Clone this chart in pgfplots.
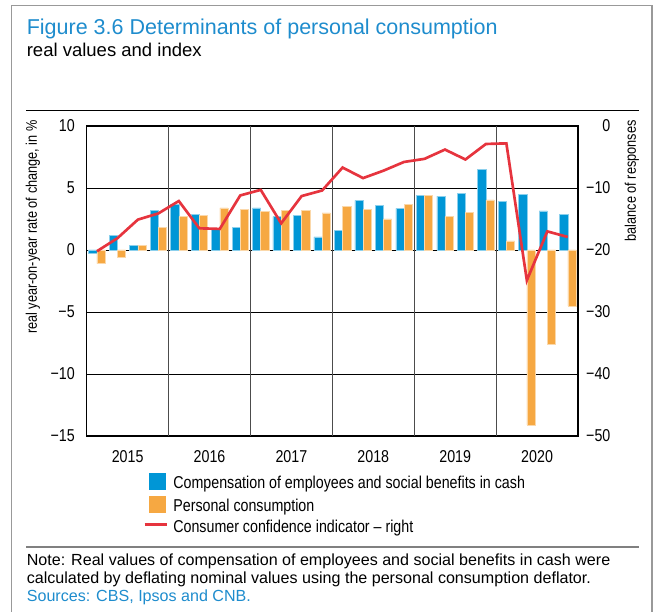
\documentclass[border=0pt]{standalone}
\usepackage{pgfplots}
\pgfplotsset{compat=1.18}
\usepackage{fontspec}
\setmainfont{Liberation Sans}
\newfontfamily\narrowfont[FakeStretch=0.83]{Liberation Sans}

\definecolor{cnbblue}{RGB}{0,150,214}
\definecolor{cnborange}{RGB}{246,168,66}
\definecolor{cnbred}{RGB}{230,52,62}
\definecolor{cnbtitle}{RGB}{30,140,205}

% quarterly data 2015Q1--2020Q4 (x = 1..24)
\pgfplotstableread{
q  comp   cons   conf
1  -0.3   -1.1   -20.2
2   1.2   -0.6   -18.1
3   0.4    0.4   -15.1
4   3.2    1.8   -14.1
5   3.65   2.7   -12.1
6   2.9    2.8   -16.5
7   1.7    3.4   -16.6
8   1.8    3.3   -11.2
9   3.4    3.1   -10.3
10  2.7    3.2   -15.7
11  2.8    3.2   -11.3
12  1.05   3.0   -10.4
13  1.6    3.5    -6.7
14  4.0    3.3    -8.4
15  3.6    2.5    -7.2
16  3.35   3.7    -5.8
17  4.4    4.4    -5.3
18  4.35   2.7    -3.8
19  4.55   3.05   -5.4
20  6.5    4.05   -2.9
21  3.9    0.73   -2.8
22  4.5  -14.1   -24.9
23  3.15  -7.6   -17.0
24  2.9   -4.5   -17.9
}\datatable

\begin{document}
\begin{tikzpicture}
% page furniture in reference pixels (1px = 0.6pt, y downwards)
\begin{scope}[x=0.6pt,y=-0.6pt]
\useasboundingbox (0,0) rectangle (654,612);
\draw[gray!80, line width=0.9pt] (11.5,612) -- (11.5,5.7) -- (652,5.7) -- (652,612);
\node[anchor=base west, inner sep=0, text=cnbtitle, font=\fontsize{12.9}{15}\selectfont] at (26.5,35) {Figure 3.6 Determinants of personal consumption};
\node[anchor=base west, inner sep=0, font=\fontsize{11.1}{13}\selectfont] at (26.5,57) {real values and index};
\draw[black, line width=0.6pt] (26,111) -- (639,111);
\node[rotate=90, anchor=east, inner sep=0, font=\narrowfont\fontsize{9.2}{10}\selectfont] at (33,120) {real year-on-year rate of change, in \%};
\node[rotate=90, anchor=east, inner sep=0, font=\narrowfont\fontsize{9.2}{10}\selectfont] at (632,120) {balance of responses};
\draw[gray, line width=1.2pt] (26,547) -- (639,547);
\node[anchor=base west, inner sep=0, font=\fontsize{9.65}{11}\selectfont] at (26.5,565) {Note: Real values of compensation of employees and social benefits in cash were};
\node[anchor=base west, inner sep=0, font=\fontsize{9.65}{11}\selectfont] at (26.5,583) {calculated by deflating nominal values using the personal consumption deflator.};
\node[anchor=base west, inner sep=0, text=cnbtitle, font=\fontsize{9.65}{11}\selectfont] at (26.5,601) {Sources: CBS, Ipsos and CNB.};
\end{scope}

\begin{axis}[
    at={(52.02pt,-261.6pt)}, anchor=south west,
    scale only axis, width=294.8pt, height=186pt,
    xmin=0.5, xmax=24.5, ymin=-15, ymax=10,
    xtick={2.5,6.5,10.5,14.5,18.5,22.5},
    xticklabels={2015,2016,2017,2018,2019,2020},
    ytick={-15,-10,-5,0,5,10},
    yticklabels={−15,−10,−5,0,5,10},
    extra x ticks={4.5,8.5,12.5,16.5,20.5},
    extra x tick labels={},
    extra x tick style={grid=major, major grid style={gray!60!black, line width=0.5pt}},
    ymajorgrids, major grid style={black, line width=0.5pt},
    major tick length=0pt,
    axis line style={black, line width=0.7pt},
    tick label style={font=\narrowfont\fontsize{10.3}{12}\selectfont, inner sep=0pt},
    yticklabel style={anchor=east, xshift=-7pt},
    xticklabel style={anchor=base, yshift=-16pt},
    legend style={at={(axis description cs:0.1146,-0.119)}, anchor=north west,
        draw=none, fill=none, inner sep=0pt, row sep=2.2pt,
        font=\narrowfont\fontsize{10.3}{12}\selectfont,
        nodes={inner sep=0pt, text height=7.6pt, text depth=2.8pt},
        /tikz/every odd column/.style={column sep=3.2pt}},
    legend cell align=left,
]
\addplot[ybar, bar width=0.4, bar shift=-0.2, fill=cnbblue, draw=cnbblue!45, line width=0.3pt,
    legend image code/.code={\fill[cnbblue] (0pt,-3.2pt) rectangle (9.6pt,6.4pt);}]
    table[x=q, y=comp] {\datatable};
\addlegendentry{Compensation of employees and social benefits in cash}
\addplot[ybar, bar width=0.4, bar shift=0.2, fill=cnborange, draw=cnborange!45, line width=0.3pt,
    legend image code/.code={\fill[cnborange] (0pt,-3.2pt) rectangle (9.6pt,6.4pt);}]
    table[x=q, y=cons] {\datatable};
\addlegendentry{Personal consumption}
\addlegendimage{legend image code/.code={\draw[cnbred, line width=1.6pt] (-3pt,2.4pt) -- (10.2pt,2.4pt);}}
\addlegendentry{Consumer confidence indicator – right}
\end{axis}

\begin{axis}[
    at={(52.02pt,-261.6pt)}, anchor=south west,
    scale only axis, width=294.8pt, height=186pt,
    xmin=0.5, xmax=24.5, ymin=-50, ymax=0,
    axis y line*=right, axis x line=none,
    ytick={-50,-40,-30,-20,-10,0},
    yticklabels={−50,−40,−30,−20,−10,0},
    major tick length=0pt,
    axis line style={black, line width=0.7pt},
    tick label style={font=\narrowfont\fontsize{10.3}{12}\selectfont, inner sep=0pt},
    yticklabel style={anchor=east, xshift=19.6pt},
]
\addplot[cnbred, line width=1.6pt, mark=none] table[x=q, y=conf] {\datatable};
\end{axis}
\end{tikzpicture}
\end{document}
